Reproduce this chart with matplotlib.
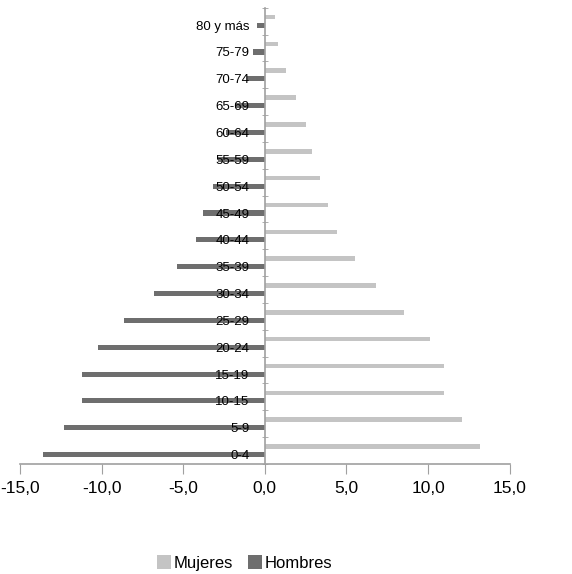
import numpy as np
import matplotlib
matplotlib.use("Agg")
import matplotlib.pyplot as plt
from matplotlib.ticker import FuncFormatter

# Age groups, bottom to top
grupos = ['0-4', '5-9', '10-15', '15-19', '20-24', '25-29', '30-34', '35-39',
          '40-44', '45-49', '50-54', '55-59', '60-64', '65-69', '70-74',
          '75-79', '80 y más']
mujeres = [13.2, 12.1, 11.0, 11.0, 10.1, 8.5, 6.8, 5.5,
           4.4, 3.9, 3.4, 2.9, 2.5, 1.9, 1.3, 0.8, 0.6]
hombres = [-13.6, -12.3, -11.2, -11.2, -10.2, -8.6, -6.8, -5.4,
           -4.2, -3.8, -3.2, -2.9, -2.4, -1.8, -1.1, -0.7, -0.5]

plt.rcParams['font.family'] = ['Liberation Sans Narrow', 'Liberation Sans', 'DejaVu Sans']

fig = plt.figure(figsize=(5.72, 5.74), dpi=100)
ax = fig.add_axes([0.035, 0.1916, 0.856, 0.795])

y = np.arange(len(grupos))
off = 0.15
ax.barh(y + off, mujeres, height=0.17, color='#c4c4c4', label='Mujeres')
ax.barh(y - off, hombres, height=0.19, color='#6e6e6e', label='Hombres')

ax.set_xlim(-15, 15)
ax.set_ylim(-0.5, len(grupos) - 0.5)
ax.set_xticks(np.arange(-15, 16, 5))
ax.xaxis.set_major_formatter(FuncFormatter(lambda v, p: f'{v:.1f}'.replace('.', ',')))
ax.tick_params(axis='x', labelsize=12.5, length=7, color='#a0a0a0', pad=5)

# category labels sit next to the men's bars, axis line at zero
ax.spines['left'].set_position(('data', 0))
ax.set_yticks(y - off)
ax.set_yticklabels(grupos)
ax.tick_params(axis='y', which='major', length=0, labelsize=9.5, pad=11)
ax.set_yticks(np.arange(-0.5, len(grupos), 1), minor=True)
ax.tick_params(axis='y', which='minor', length=5, direction='inout', color='#a0a0a0')

for s in ['top', 'right']:
    ax.spines[s].set_visible(False)
ax.spines['left'].set_color('#a0a0a0')
ax.spines['bottom'].set_color('#a0a0a0')
ax.spines['left'].set_linewidth(1.2)
ax.spines['bottom'].set_linewidth(1.2)

fig.legend(loc='center', bbox_to_anchor=(245 / 572, 1 - 563 / 574), ncol=2,
           frameon=False, fontsize=12, handlelength=0.8, handleheight=0.9,
           handletextpad=0.2, columnspacing=0.9)

fig.savefig('out.png', dpi=100)
